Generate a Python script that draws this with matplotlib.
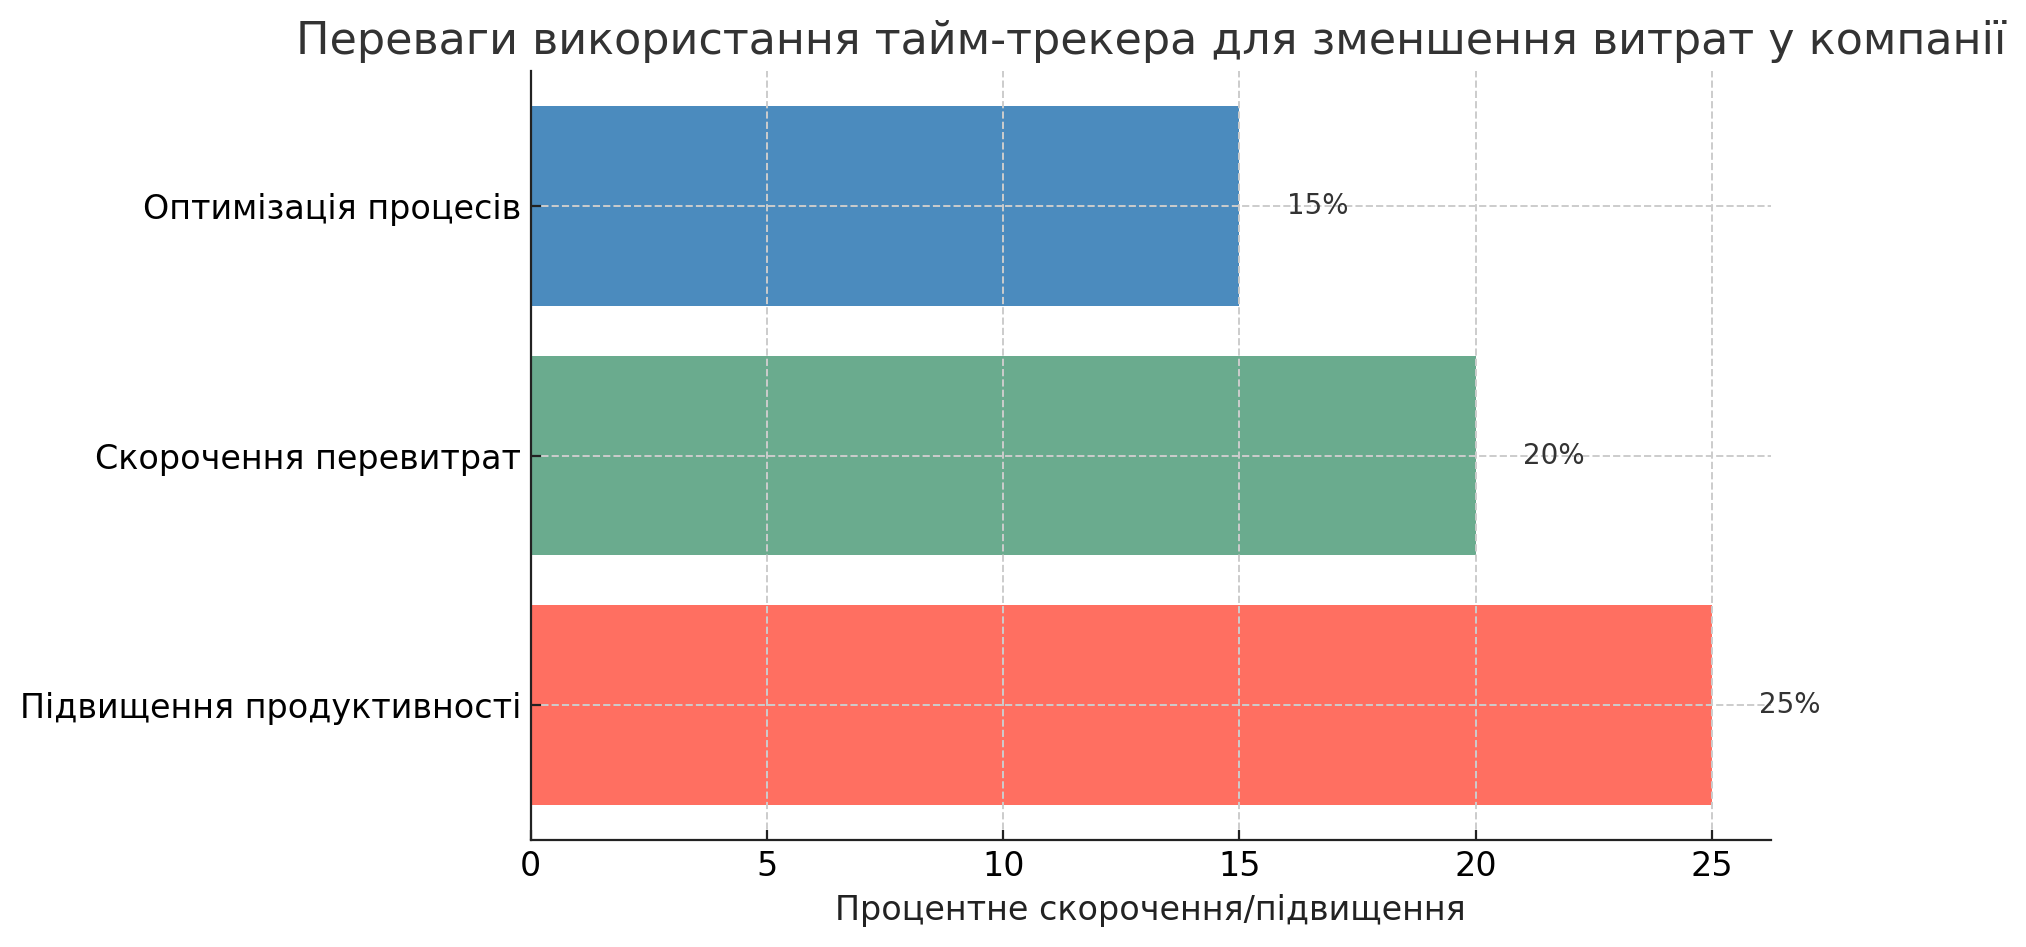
import matplotlib
matplotlib.use('Agg')
import matplotlib.pyplot as plt

# data
categories = ['Підвищення продуктивності', 'Скорочення перевитрат', 'Оптимізація процесів']
values = [25, 20, 15]
colors = ['#FF6F61', '#6AAB8E', '#4B8BBE']
x_ticks = [0, 5, 10, 15, 20, 25]

fig, ax = plt.subplots(figsize=(10.13, 4.735), dpi=200)
fig.subplots_adjust(left=0.262, right=0.874, top=0.925, bottom=0.113)

bars = ax.barh(categories, values, color=colors, height=0.8, zorder=2)

# value labels to the right of each bar
for bar, val in zip(bars, values):
    ax.text(bar.get_width() + 1, bar.get_y() + bar.get_height() / 2, f'{val}%',
            va='center', ha='left', fontsize=10, color='#333333')

ax.set_xticks(x_ticks)
ax.set_xlabel('Процентне скорочення/підвищення', fontsize=12, color='#222222')
ax.set_title('Переваги використання тайм-трекера для зменшення витрат у компанії',
             fontsize=16, color='#333333')
ax.tick_params(axis='both', labelsize=12, direction='in', color='#222222')
ax.grid(True, linestyle='--', color='#cccccc', linewidth=0.7, zorder=0)
ax.set_axisbelow(False)
ax.spines['top'].set_visible(False)
ax.spines['right'].set_visible(False)
for s in ('left', 'bottom'):
    ax.spines[s].set_zorder(5)
    ax.spines[s].set_color('#222222')

fig.savefig('out.png', dpi=200)
